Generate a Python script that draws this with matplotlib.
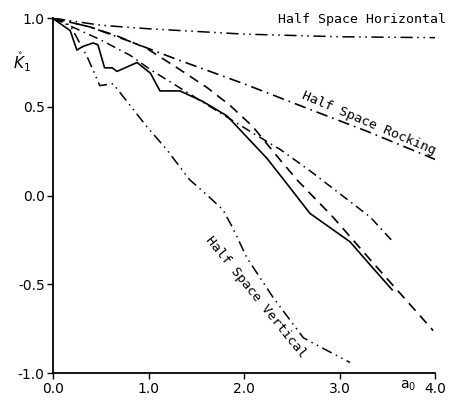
import numpy as np
import matplotlib.pyplot as plt

# frequency a0 and stiffness coefficient K1 for each curve
a_solid = [0.0, 0.02, 0.18, 0.25, 0.31, 0.42, 0.47, 0.54, 0.62, 0.67, 0.88, 1.02, 1.12, 1.33,
           1.57, 1.82, 2.24, 2.43, 2.69, 3.11, 3.32, 3.55]
k_solid = [1.0, 0.99, 0.93, 0.82, 0.84, 0.86, 0.85, 0.72, 0.72, 0.70, 0.75, 0.69, 0.59, 0.59,
           0.53, 0.45, 0.21, 0.08, -0.10, -0.26, -0.39, -0.53]

a_dash = [0.0, 0.39, 0.67, 0.98, 1.30, 1.61, 1.85, 2.09, 2.38, 2.57, 2.93, 3.32, 3.98]
k_dash = [1.0, 0.95, 0.90, 0.83, 0.72, 0.61, 0.51, 0.39, 0.20, 0.08, -0.12, -0.36, -0.76]

a_dashdot = [0.0, 0.49, 0.81, 1.02, 1.35, 1.65, 1.95, 2.10, 2.38, 2.69, 3.32, 3.56]
k_dashdot = [1.0, 0.88, 0.79, 0.71, 0.60, 0.50, 0.40, 0.35, 0.26, 0.14, -0.12, -0.26]

a_horiz = [0.0, 0.5, 1.0, 1.5, 2.0, 3.0, 4.0]
k_horiz = [1.0, 0.96, 0.94, 0.925, 0.91, 0.895, 0.89]

a_rock = [0.0, 0.39, 0.8, 1.26, 2.0, 2.67, 3.3, 4.02]
k_rock = [1.0, 0.95, 0.87, 0.775, 0.63, 0.49, 0.36, 0.20]

a_vert = [0.0, 0.18, 0.36, 0.49, 0.63, 0.98, 1.19, 1.43, 1.62, 1.78, 1.88, 2.03, 2.30, 2.62,
          2.72, 3.11]
k_vert = [1.0, 0.96, 0.78, 0.62, 0.63, 0.39, 0.26, 0.09, 0.0, -0.08, -0.18, -0.35, -0.57, -0.80,
          -0.83, -0.94]

xticks = [0.0, 1.0, 2.0, 3.0, 4.0]
yticks = [-1.0, -0.5, 0.0, 0.5, 1.0]

fig = plt.figure(figsize=(4.49, 4.03), dpi=100)
ax = fig.add_axes([0.118, 0.074, 0.851, 0.881])

ax.plot(a_solid, k_solid, color="black", lw=1.2)
ax.plot(a_dash, k_dash, color="black", lw=1.2, linestyle=(0, (6, 4)))
ax.plot(a_dashdot, k_dashdot, color="black", lw=1.1, linestyle=(0, (6, 3, 1, 3)))
ax.plot(a_horiz, k_horiz, color="black", lw=1.1, linestyle=(0, (8, 3, 1, 3, 1, 3)))
ax.plot(a_rock, k_rock, color="black", lw=1.2, linestyle=(0, (7, 3, 1, 3)))
ax.plot(a_vert, k_vert, color="black", lw=1.1, linestyle=(0, (7, 3, 1, 3, 1, 3)))

mono = "DejaVu Sans Mono"
ax.text(3.24, 0.99, "Half Space Horizontal", family=mono, fontsize=9.5,
        ha="center", va="center", clip_on=False)
ax.text(3.31, 0.41, "Half Space Rocking", family=mono, fontsize=9.5,
        ha="center", va="center", rotation=-23, clip_on=False)
ax.text(2.12, -0.57, "Half Space Vertical", family=mono, fontsize=9.5,
        ha="center", va="center", rotation=-51)

ax.set_xlim(0, 4)
ax.set_ylim(-1, 1)
ax.set_xticks(xticks)
ax.set_yticks(yticks)
ax.set_xticklabels(["%.1f" % v for v in xticks])
ax.set_yticklabels(["%.1f" % v for v in yticks])
ax.tick_params(labelsize=10, length=4, width=1, pad=2)

ax.spines["top"].set_visible(False)
ax.spines["right"].set_visible(False)
ax.spines["left"].set_linewidth(1.3)
ax.spines["bottom"].set_linewidth(1.3)

ax.text(-0.32, 0.75, r"$\mathring{K}_1$", fontsize=11, ha="center", va="center")
ax.text(3.72, -1.07, r"a$_0$", fontsize=10, ha="center", va="center", clip_on=False)

plt.savefig("out.png", dpi=100)
